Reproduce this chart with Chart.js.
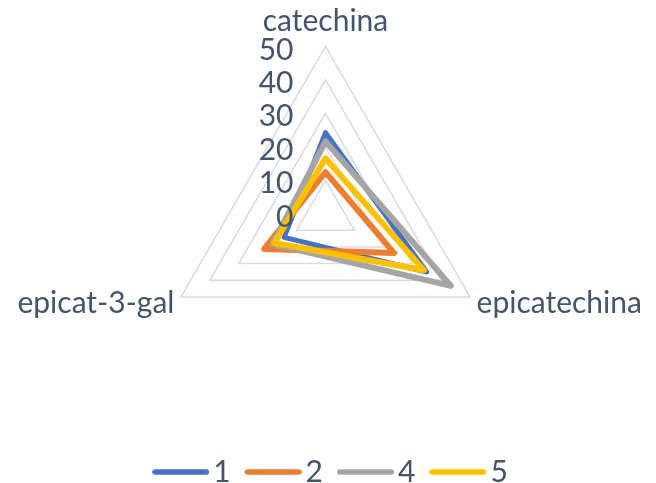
<!DOCTYPE html>
<html>
<head>
<meta charset="utf-8">
<style>
  html, body { margin: 0; padding: 0; background: #ffffff; }
  #wrap { width: 656px; height: 483px; }
</style>
<script src="https://cdn.jsdelivr.net/npm/chart.js@4/dist/chart.umd.min.js"></script>
</head>
<body>
<div id="wrap"><canvas id="chart" width="656" height="483"></canvas></div>
<script>
// Axes of the radar and the value of each series on them
const axes = ['catechina', 'epicatechina', 'epicat-3-gal'];
const seriesNames = ['1', '2', '4', '5'];
const serie1 = [24.2, 35.0, 14.3];
const serie2 = [12.4, 23.7, 21.2];
const serie4 = [21.6, 43.3, 18.3];
const serie5 = [16.5, 34.0, 17.7];
const tickValues = [0, 10, 20, 30, 40, 50];

const seriesColors = ['#4472C4', '#ED7D31', '#A5A5A5', '#FFC000'];
const seriesWidths = [5, 6, 6, 6];
const TEXT = '#44546A';
const GRID = '#D6DCE4';
const FONT = 'Lato, "Liberation Sans", sans-serif';
const FONT_SIZE = 30;

// Geometry of the radar on the canvas
const CENTER_X = 325.5, CENTER_Y = 213.5, RADIUS = 167;

// Small line swatch used as the legend marker
function legendSwatch(color, width) {
  const c = document.createElement('canvas');
  c.width = 72; c.height = 12;
  const g = c.getContext('2d');
  g.strokeStyle = color;
  g.lineWidth = width;
  g.lineCap = 'round';
  g.beginPath();
  g.moveTo(15 + width / 2, 6);
  g.lineTo(72 - width / 2, 6);
  g.stroke();
  return c;
}

// Value labels along the top axis, right-aligned beside it
const tickLabelPlugin = {
  id: 'tickLabels',
  afterDatasetsDraw(chart) {
    const r = chart.scales.r;
    const ctx = chart.ctx;
    ctx.save();
    ctx.font = FONT_SIZE + 'px ' + FONT;
    ctx.fillStyle = TEXT;
    ctx.textAlign = 'right';
    ctx.textBaseline = 'alphabetic';
    tickValues.forEach(v => {
      const y = r.yCenter - r.getDistanceFromCenterForValue(v);
      ctx.fillText(String(v), r.xCenter - 32, y + 13);
    });
    ctx.restore();
  }
};

const seriesData = [serie1, serie2, serie4, serie5];
const datasets = seriesData.map((d, i) => ({
  label: seriesNames[i],
  data: d,
  borderColor: seriesColors[i],
  backgroundColor: 'rgba(0,0,0,0)',
  fill: false,
  borderWidth: seriesWidths[i],
  borderJoinStyle: 'round',
  borderCapStyle: 'round',
  pointRadius: 0,
  pointHoverRadius: 0,
  order: seriesData.length - i
}));

new Chart(document.getElementById('chart'), {
  type: 'radar',
  data: { labels: axes, datasets },
  plugins: [tickLabelPlugin],
  options: {
    responsive: false,
    animation: false,
    layout: { padding: { top: 0, left: 0, right: 0, bottom: -14 } },
    plugins: {
      tooltip: { enabled: false },
      legend: {
        position: 'bottom',
        labels: {
          usePointStyle: true,
          pointStyleWidth: 50,
          padding: 10,
          color: TEXT,
          font: { family: FONT, size: FONT_SIZE },
          generateLabels(chart) {
            const items = Chart.defaults.plugins.legend.labels.generateLabels(chart);
            items.sort((a, b) => a.datasetIndex - b.datasetIndex);
            items.forEach(it => {
              it.pointStyle = legendSwatch(seriesColors[it.datasetIndex], 5.5);
              it.fontColor = TEXT;
            });
            return items;
          }
        }
      }
    },
    scales: {
      r: {
        min: 0,
        max: 50,
        ticks: { stepSize: 10, display: false },
        angleLines: { display: false },
        grid: { color: GRID, lineWidth: 1.5 },
        pointLabels: {
          color: TEXT,
          font: { family: FONT, size: FONT_SIZE, lineHeight: 0.2 },
          padding: ctx => (ctx.index === 0 ? 22.5 : 7.5)
        },
        afterFit(scale) {
          const items = scale._pointLabelItems || [];
          const before = items.map((_, i) => scale.getPointPosition(i, scale.drawingArea));
          scale.xCenter = CENTER_X;
          scale.yCenter = CENTER_Y;
          scale.drawingArea = RADIUS;
          items.forEach((it, i) => {
            const p = scale.getPointPosition(i, RADIUS);
            const dx = p.x - before[i].x, dy = p.y - before[i].y;
            it.x += dx; it.left += dx; it.right += dx;
            it.y += dy; it.top += dy; it.bottom += dy;
          });
        }
      }
    }
  }
});
</script>
</body>
</html>
